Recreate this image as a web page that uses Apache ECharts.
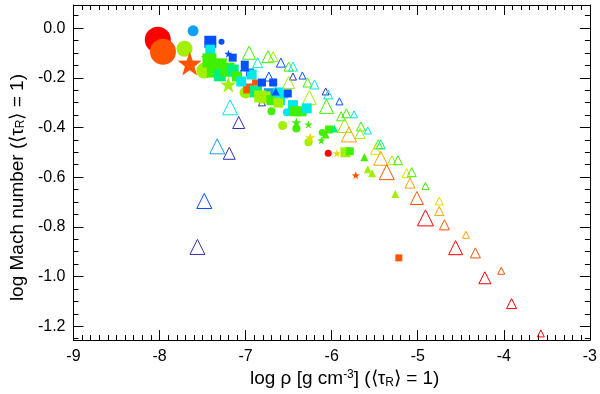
<!DOCTYPE html>
<html>
<head>
<meta charset="utf-8">
<script src="https://cdn.jsdelivr.net/npm/echarts@6/dist/echarts.min.js"></script>
<style>
html, body { margin: 0; padding: 0; background: #fff; }
#chart { width: 600px; height: 394px; }
</style>
</head>
<body>
<div id="chart"></div>
<script>
// each row: [log rho, log Mach, marker size, colour group]
const openTriangles = [
	[-6.96, -0.099, 13, 5], [-6.74, -0.115, 12, 5], [-6.68, -0.115, 10, 4],
	[-6.86, -0.139, 10, 7], [-6.59, -0.139, 9, 9], [-6.50, -0.155, 9, 5],
	[-6.45, -0.155, 9, 7], [-6.73, -0.195, 9, 9], [-6.45, -0.195, 7, 10],
	[-6.34, -0.191, 7, 9], [-6.50, -0.219, 12, 4], [-6.28, -0.219, 9, 5],
	[-6.20, -0.227, 9, 7], [-6.26, -0.279, 14, 4], [-6.07, -0.255, 7, 10],
	[-6.04, -0.267, 9, 7], [-6.06, -0.315, 14, 5], [-5.91, -0.295, 7, 9],
	[-5.89, -0.355, 9, 5], [-5.83, -0.343, 9, 5], [-5.74, -0.347, 7, 7],
	[-5.85, -0.392, 14, 4], [-5.80, -0.428, 15, 2], [-5.66, -0.396, 9, 5],
	[-5.67, -0.424, 10, 4], [-5.58, -0.412, 7, 7], [-5.46, -0.468, 9, 5],
	[-5.43, -0.468, 9, 6], [-5.49, -0.488, 10, 3], [-5.43, -0.524, 14, 2],
	[-5.36, -0.580, 15, 1], [-5.30, -0.532, 9, 4], [-5.23, -0.532, 9, 5],
	[-5.13, -0.584, 9, 3], [-5.07, -0.580, 9, 5], [-5.09, -0.624, 10, 2],
	[-4.91, -0.636, 7, 5], [-5.01, -0.684, 13, 1], [-4.75, -0.696, 8, 3],
	[-4.75, -0.736, 9, 2], [-4.91, -0.764, 16, 0], [-4.69, -0.792, 10, 1],
	[-4.44, -0.832, 7, 2], [-4.56, -0.884, 14, 0], [-4.33, -0.905, 10, 1],
	[-4.03, -0.977, 7, 1], [-4.22, -1.005, 12, 0], [-3.91, -1.109, 10, 0],
	[-3.57, -1.229, 7, 0],
	[-7.18, -0.319, 15, 7], [-7.08, -0.380, 12, 10], [-7.33, -0.476, 15, 8],
	[-7.19, -0.504, 12, 10], [-7.48, -0.696, 15, 9], [-7.56, -0.881, 15, 10],
	[-6.81, -0.299, 7, 10]
];
const circles = [
	[-8.02, -0.047, 26, 0], [-7.96, -0.095, 26, 1], [-7.61, -0.011, 11, 8],
	[-7.71, -0.083, 16, 4], [-7.48, -0.171, 16, 4], [-7.28, -0.055, 6, 9],
	[-7.00, -0.259, 12, 4], [-6.70, -0.335, 8, 5], [-6.52, -0.339, 8, 7],
	[-6.57, -0.392, 9, 4], [-6.41, -0.404, 8, 5], [-6.27, -0.460, 8, 4],
	[-6.04, -0.504, 7, 0], [-6.11, -0.420, 7, 5]
];
const squares = [
	[-7.41, -0.055, 12, 9], [-7.41, -0.087, 10, 7], [-7.42, -0.130, 14, 5],
	[-7.38, -0.175, 12, 5], [-7.30, -0.150, 14, 5], [-7.30, -0.190, 12, 6],
	[-6.97, -0.243, 10, 1], [-7.21, -0.167, 14, 5],
	[-7.15, -0.119, 8, 9], [-7.15, -0.171, 12, 6], [-7.10, -0.195, 10, 5],
	[-7.05, -0.215, 10, 7], [-6.88, -0.255, 12, 6], [-6.73, -0.262, 10, 8],
	[-7.01, -0.147, 8, 9], [-6.95, -0.179, 8, 9], [-6.93, -0.187, 10, 7],
	[-6.89, -0.219, 6, 1], [-6.81, -0.219, 8, 9], [-6.68, -0.219, 8, 9],
	[-6.83, -0.275, 12, 4], [-6.78, -0.279, 12, 4], [-6.70, -0.290, 10, 5],
	[-6.62, -0.259, 10, 7], [-6.60, -0.290, 10, 7], [-6.62, -0.300, 10, 4],
	[-6.55, -0.267, 8, 7], [-6.45, -0.310, 10, 7],
	[-6.51, -0.263, 8, 9], [-6.43, -0.335, 10, 5], [-6.35, -0.335, 10, 5],
	[-6.29, -0.323, 10, 7], [-6.03, -0.408, 8, 5], [-5.84, -0.500, 10, 4],
	[-5.79, -0.496, 8, 5], [-5.22, -0.925, 7, 1]
];
const filledTriangles = [
	[-7.01, -0.155, 10, 9], [-6.65, -0.255, 8, 9], [-6.07, -0.428, 8, 5],
	[-5.97, -0.404, 8, 6], [-5.62, -0.520, 8, 5], [-5.58, -0.568, 8, 4],
	[-5.53, -0.584, 8, 4], [-5.26, -0.668, 8, 4]
];
const stars = [
	[-7.65, -0.143, 24, 1], [-7.44, -0.119, 14, 5], [-7.20, -0.227, 16, 4],
	[-7.20, -0.103, 8, 9], [-6.41, -0.380, 10, 5], [-6.27, -0.388, 8, 5],
	[-6.25, -0.440, 10, 3], [-6.12, -0.452, 8, 5], [-5.94, -0.504, 8, 3],
	[-5.72, -0.592, 8, 1]
];
const yTicks = [-1.2, -1.0, -0.8, -0.6, -0.4, -0.2, 0.0];
const palette = ['#ff0000', '#ff5500', '#ffa000', '#e0e000', '#a0f000', '#40f000',
	'#00f080', '#00e8e8', '#10a0f0', '#0050ff', '#3030b0'];

const STAR = 'path://M0,-10L2.35,-3.24L9.51,-3.09L3.8,1.24L5.88,8.09L0,4L-5.88,8.09L-3.8,1.24L-9.51,-3.09L-2.35,-3.24Z';
const FONT = 'Liberation Sans';

let yMinor = [];
for (let i = -25; i <= 1; i++) {
	if (i % 4 !== 0) yMinor.push(i * 0.05);
}

function toItems(rows, open) {
	return rows.map(r => ({
		value: [r[0], r[1]],
		symbolSize: r[2],
		itemStyle: open
			? { color: 'rgba(0,0,0,0)', borderColor: palette[r[3]], borderWidth: 1, opacity: 1 }
			: { color: palette[r[3]], opacity: 1 }
	}));
}

function markSeries(rows, symbol, open) {
	return {
		type: 'scatter',
		symbol: symbol,
		data: toItems(rows, open),
		itemStyle: { opacity: 1 },
		animation: false,
		emphasis: { disabled: true }
	};
}

const lineStyle = { color: '#000', width: 1 };
const richText = {
	sup: { fontSize: 12, fontFamily: FONT, color: '#000', verticalAlign: 'top', padding: [0, 0, 8, 0] },
	sub: { fontSize: 12, fontFamily: FONT, color: '#000', verticalAlign: 'bottom', padding: [7, 0, 0, 0] }
};
function xAx(pos, labels) {
	return {
		type: 'value', position: pos, min: -9, max: -3, interval: 1,
		axisLine: { show: true, onZero: false, lineStyle },
		axisTick: { show: true, inside: true, length: 10, lineStyle },
		minorTick: { show: true, splitNumber: 10, length: 5, lineStyle },
		axisLabel: { show: labels, color: '#000', fontFamily: FONT, fontSize: 16, margin: 8 },
		splitLine: { show: false },
		name: labels ? 'log ρ [g cm{sup|-3}] (⟨τ{sub|R}⟩ = 1)' : '',
		nameLocation: 'middle',
		nameGap: 27,
		nameTextStyle: {
			color: '#000', fontFamily: FONT, fontSize: 19, padding: [0, 0, 0, 26],
			rich: richText
		}
	};
}
function yAx(pos, ticks, len, labels, line) {
	return {
		type: 'value', position: pos, min: -1.256, max: 0.093,
		axisLine: { show: line, onZero: false, lineStyle },
		axisTick: { show: true, inside: true, length: len, customValues: ticks, lineStyle },
		axisLabel: {
			show: labels, customValues: ticks, color: '#000', fontFamily: FONT, fontSize: 16, margin: 8,
			formatter: v => v.toFixed(1)
		},
		splitLine: { show: false },
		name: labels ? 'log Mach number (⟨τ{sub|R}⟩ = 1)' : '',
		nameLocation: 'middle',
		nameGap: 46,
		nameTextStyle: {
			color: '#000', fontFamily: FONT, fontSize: 19, padding: [0, 30, 0, 0],
			rich: richText
		}
	};
}

let $chart = echarts.init(document.getElementById('chart'), null, { renderer: 'canvas' });
$chart.setOption({
	backgroundColor: '#fff',
	animation: false,
	grid: { left: 72, right: 9, top: 5, bottom: 52 },
	xAxis: [xAx('bottom', true), xAx('top', false)],
	yAxis: [
		yAx('left', yTicks, 10, true, true),
		yAx('left', yMinor, 5, false, false),
		yAx('right', yTicks, 10, false, true),
		yAx('right', yMinor, 5, false, false)
	],
	series: [
		markSeries(openTriangles, 'triangle', true),
		markSeries(circles, 'circle', false),
		markSeries(squares, 'rect', false),
		markSeries(filledTriangles, 'triangle', false),
		markSeries(stars, STAR, false)
	]
});
</script>
</body>
</html>
